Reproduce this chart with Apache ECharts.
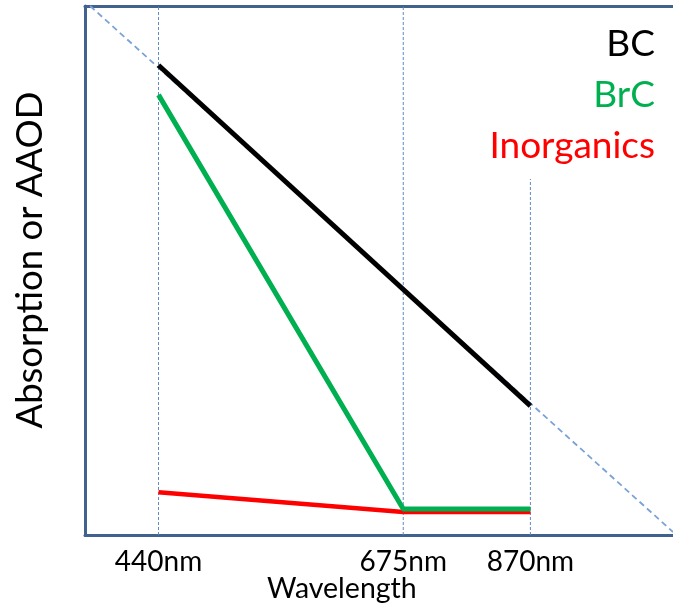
<!DOCTYPE html>
<html>
<head>
<meta charset="utf-8">
<title>Spectral absorption sketch</title>
<script src="https://cdn.jsdelivr.net/npm/echarts@6/dist/echarts.min.js"></script>
<style>
  html, body { margin: 0; padding: 0; background: #ffffff; }
  #chart { width: 673px; height: 605px; }
</style>
</head>
<body>
<div id="chart"></div>
<script>
// Wavelength stops, placed along a schematic (not to scale) x axis
const stopLabels = ['440nm', '675nm', '870nm'];
const stopPos = [1.0, 4.33, 6.06];
const xMax = 8;

// Relative absorption (0 = axis, 100 = top of the frame)
const bcValues = [88.8, 24.4];              // at 440nm and 870nm
const brcValues = [83.2, 4.9, 4.9];         // at 440, 675, 870nm
const inorganicValues = [8.1, 4.35, 4.35];  // at 440, 675, 870nm

// Guide lines: 1/λ-style diagonal, and vertical markers at each stop
const diagonalX = [0.07, 8];
const diagonalY = [100, 0.57];
const guideTop = [100, 100, 67.3];

const FONT = 'Lato';
const AXIS_COLOR = '#41628f';
const GUIDE_COLOR = '#5f8ac6';

const pts = (xs, ys) => xs.map((x, i) => [x, ys[i]]);

const guideSeries = stopPos.map((x, i) => ({
  type: 'line',
  silent: true,
  symbol: 'none',
  data: [[x, 0], [x, guideTop[i]]],
  lineStyle: { color: GUIDE_COLOR, width: 1, type: [3, 2] },
  z: 1
}));

const chart = echarts.init(document.getElementById('chart'), null, { renderer: 'canvas' });

chart.setOption({
  animation: false,
  backgroundColor: '#ffffff',
  grid: { left: 85, right: 0, top: 6, bottom: 70, containLabel: false },
  title: {
    text: 'Wavelength',
    left: 267,
    top: 574,
    padding: 0,
    textStyle: { fontFamily: FONT, fontSize: 28.5, fontWeight: 'normal', color: '#000' }
  },
  legend: ['BC', 'BrC', 'Inorganics'].map((name, i) => ({
    data: [{ name: name }],
    right: 18,
    top: 26 + i * 51,
    orient: 'vertical',
    icon: 'none',
    itemWidth: 0,
    itemHeight: 0,
    padding: 0,
    selectedMode: false,
    textStyle: {
      fontFamily: FONT,
      fontSize: 37,
      color: ['#000000', '#00b050', '#ff0000'][i],
      padding: 0
    }
  })),
  graphic: [{
    type: 'text',
    x: 30,
    y: 260,
    rotation: Math.PI / 2,
    style: {
      text: 'Absorption or AAOD',
      fontFamily: FONT,
      fontSize: 36.5,
      fill: '#000',
      align: 'center',
      verticalAlign: 'middle'
    }
  }],
  xAxis: [{
    type: 'value',
    min: 0,
    max: xMax,
    position: 'bottom',
    axisLine: { show: true, onZero: false, lineStyle: { color: AXIS_COLOR, width: 3 } },
    axisTick: { show: false },
    splitLine: { show: false },
    axisLabel: {
      customValues: stopPos,
      margin: 13,
      fontFamily: FONT,
      fontSize: 28,
      color: '#000',
      formatter: v => {
        const i = stopPos.findIndex(p => Math.abs(p - v) < 1e-6);
        return i >= 0 ? stopLabels[i] : '';
      }
    }
  }, {
    type: 'value',
    min: 0,
    max: xMax,
    position: 'top',
    axisLine: { show: true, onZero: false, lineStyle: { color: AXIS_COLOR, width: 3 } },
    axisTick: { show: false },
    axisLabel: { show: false },
    splitLine: { show: false }
  }],
  yAxis: {
    type: 'value',
    min: 0,
    max: 100,
    axisLine: { show: true, onZero: false, lineStyle: { color: AXIS_COLOR, width: 3 } },
    axisTick: { show: false },
    axisLabel: { show: false },
    splitLine: { show: false }
  },
  series: [
    {
      type: 'line',
      silent: true,
      symbol: 'none',
      data: pts(diagonalX, diagonalY),
      lineStyle: { color: '#7aa2d8', width: 1.8, type: [6, 4] },
      z: 1
    },
    ...guideSeries,
    {
      name: 'Inorganics',
      type: 'line',
      symbol: 'none',
      data: pts(stopPos, inorganicValues),
      lineStyle: { color: '#ff0000', width: 4.5 },
      itemStyle: { color: '#ff0000' },
      z: 3
    },
    {
      name: 'BrC',
      type: 'line',
      symbol: 'none',
      data: pts(stopPos, brcValues),
      lineStyle: { color: '#00b050', width: 5 },
      itemStyle: { color: '#00b050' },
      z: 4
    },
    {
      name: 'BC',
      type: 'line',
      symbol: 'none',
      data: pts([stopPos[0], stopPos[2]], bcValues),
      lineStyle: { color: '#000000', width: 5 },
      itemStyle: { color: '#000000' },
      z: 5
    }
  ]
});
</script>
</body>
</html>
